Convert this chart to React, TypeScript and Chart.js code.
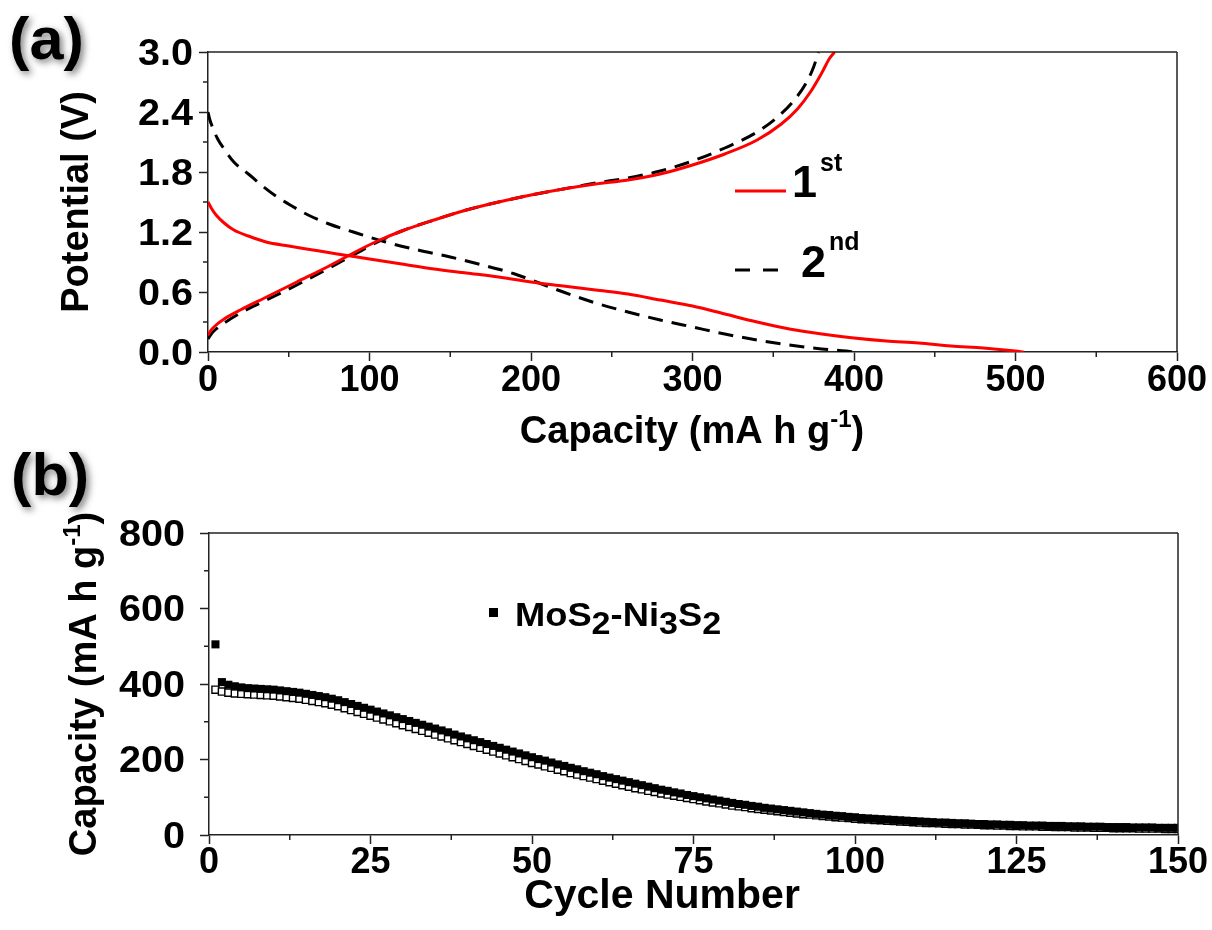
import React, { useEffect, useRef } from 'react';
import { Chart, registerables } from 'chart.js';
Chart.register(...registerables);

const FONT = '"Liberation Sans", Arial, Helvetica, sans-serif';
const AXIS = '#222';

// ---------- Panel (a): potential profiles ----------
const capTicks = [0, 100, 200, 300, 400, 500, 600];
const capTickLabels = ['0', '100', '200', '300', '400', '500', '600'];
const capMinor = [50, 150, 250, 350, 450, 550];
const potTicks = [0, 0.6, 1.2, 1.8, 2.4, 3.0];
const potTickLabels = ['0.0', '0.6', '1.2', '1.8', '2.4', '3.0'];
const potMinor = [0.3, 0.9, 1.5, 2.1, 2.7];

const discharge1Cap = [0, 2, 5, 10, 16, 25, 36, 50, 65, 80, 100, 120, 140, 160, 180, 200, 220, 240, 260, 280, 300, 320, 340, 360, 380, 400, 420, 440, 460, 480, 500, 505];
const discharge1V = [1.5, 1.44, 1.37, 1.29, 1.22, 1.16, 1.1, 1.06, 1.02, 0.98, 0.93, 0.88, 0.83, 0.79, 0.75, 0.7, 0.66, 0.62, 0.58, 0.52, 0.46, 0.38, 0.3, 0.23, 0.18, 0.14, 0.11, 0.09, 0.06, 0.04, 0.01, 0];
const charge1Cap = [0, 2, 5, 10, 20, 35, 55, 75, 90, 105, 120, 140, 160, 180, 200, 220, 240, 260, 280, 300, 320, 340, 355, 365, 373, 380, 385, 388];
const charge1V = [0.17, 0.22, 0.27, 0.33, 0.42, 0.54, 0.7, 0.86, 0.99, 1.11, 1.21, 1.32, 1.42, 1.5, 1.57, 1.63, 1.68, 1.72, 1.78, 1.87, 1.98, 2.12, 2.28, 2.43, 2.6, 2.79, 2.94, 3.0];
const discharge2Cap = [0, 1, 3, 6, 10, 16, 25, 33, 42, 52, 62, 75, 90, 110, 130, 150, 170, 190, 205, 220, 240, 260, 280, 300, 320, 340, 360, 380, 395, 400];
const discharge2V = [2.4, 2.33, 2.24, 2.13, 2.03, 1.9, 1.78, 1.67, 1.56, 1.46, 1.37, 1.28, 1.2, 1.1, 1.02, 0.95, 0.87, 0.78, 0.69, 0.6, 0.49, 0.4, 0.32, 0.25, 0.18, 0.12, 0.07, 0.03, 0.01, 0];
const charge2Cap = [0, 2, 5, 10, 20, 35, 55, 75, 90, 105, 120, 140, 160, 180, 200, 220, 240, 260, 280, 300, 320, 340, 352, 362, 370, 375, 378];
const charge2V = [0.13, 0.18, 0.23, 0.29, 0.39, 0.51, 0.67, 0.84, 0.97, 1.1, 1.21, 1.32, 1.42, 1.5, 1.57, 1.63, 1.69, 1.74, 1.81, 1.91, 2.04, 2.2, 2.34, 2.5, 2.68, 2.85, 3.0];

// ---------- Panel (b): cycling ----------
const cycTicks = [0, 25, 50, 75, 100, 125, 150];
const cycTickLabels = ['0', '25', '50', '75', '100', '125', '150'];
const cycMinor = [12.5, 37.5, 62.5, 87.5, 112.5, 137.5];
const capBTicks = [0, 200, 400, 600, 800];
const capBTickLabels = ['0', '200', '400', '600', '800'];
const capBMinor = [100, 300, 500, 700];

const dischargeCapacity = [
  505, 405, 398, 394, 391, 389, 388, 387, 386, 385,
  383, 381, 379, 377, 374, 371, 368, 365, 361, 357,
  352, 347, 342, 337, 332, 327, 322, 317, 312, 307,
  302, 297, 292, 287, 282, 277, 272, 266, 261, 256,
  251, 246, 241, 236, 231, 226, 221, 216, 211, 206,
  201, 197, 192, 187, 183, 178, 174, 169, 165, 161,
  156, 152, 148, 144, 140, 136, 132, 128, 124, 120,
  117, 113, 110, 106, 103, 100, 97, 94, 91, 88,
  85, 82, 80, 77, 75, 72, 70, 68, 66, 64,
  62, 60, 58, 56, 54, 53, 51, 50, 48, 47,
  45, 44, 43, 42, 41, 40, 39, 38, 37, 36,
  35, 34, 33, 33, 32, 31, 31, 30, 29, 29,
  28, 28, 27, 27, 26, 26, 25, 25, 25, 24,
  24, 24, 23, 23, 23, 22, 22, 22, 21, 21,
  21, 21, 20, 20, 20, 20, 19, 19, 19, 19,
];
const chargeCapacity = [
  385, 380, 377, 375, 374, 373, 372, 371, 370, 369,
  367, 365, 363, 361, 358, 355, 352, 349, 345, 341,
  336, 331, 326, 321, 316, 311, 306, 301, 296, 291,
  286, 281, 276, 271, 266, 261, 256, 251, 246, 241,
  236, 231, 226, 221, 216, 211, 206, 201, 196, 191,
  187, 182, 178, 173, 169, 164, 160, 156, 152, 148,
  144, 140, 136, 132, 128, 124, 121, 117, 114, 110,
  107, 104, 101, 98, 95, 92, 89, 86, 84, 81,
  78, 76, 74, 71, 69, 67, 65, 63, 61, 59,
  57, 55, 54, 52, 50, 49, 47, 46, 45, 43,
  42, 41, 40, 39, 38, 37, 36, 35, 34, 33,
  32, 32, 31, 30, 29, 29, 28, 28, 27, 26,
  26, 25, 25, 24, 24, 23, 23, 23, 22, 22,
  21, 21, 21, 20, 20, 20, 19, 19, 19, 18,
  18, 18, 18, 17, 17, 17, 17, 16, 16, 16,
];

type Seg = { t: string; size: number; dy?: number; gap?: number };

function setFont(ctx: CanvasRenderingContext2D, size: number) {
  ctx.font = `bold ${size}px ${FONT}`;
}

function drawRich(
  ctx: CanvasRenderingContext2D,
  segs: Seg[],
  x: number,
  y: number,
  align: 'left' | 'center' | 'right',
  rotate = false,
  sx = 1,
  shadow = false
) {
  ctx.save();
  let total = 0;
  const widths = segs.map((s) => {
    setFont(ctx, s.size);
    const w = ctx.measureText(s.t).width + (s.gap || 0);
    total += w;
    return w;
  });
  ctx.translate(x, y);
  ctx.scale(sx, 1);
  if (rotate) ctx.rotate(-Math.PI / 2);
  let cx = align === 'center' ? -total / 2 : align === 'right' ? -total : 0;
  ctx.textBaseline = 'alphabetic';
  ctx.textAlign = 'left';
  ctx.fillStyle = '#000';
  if (shadow) {
    ctx.shadowColor = 'rgba(0,0,0,0.5)';
    ctx.shadowBlur = 7;
    ctx.shadowOffsetX = 3;
    ctx.shadowOffsetY = 3;
  }
  segs.forEach((s, i) => {
    setFont(ctx, s.size);
    ctx.fillText(s.t, cx, s.dy || 0);
    cx += widths[i];
  });
  ctx.restore();
}

function line(ctx: CanvasRenderingContext2D, x1: number, y1: number, x2: number, y2: number) {
  ctx.beginPath();
  ctx.moveTo(x1, y1);
  ctx.lineTo(x2, y2);
  ctx.stroke();
}

function pts(xs: number[], ys: number[]) {
  return xs.map((x, i) => ({ x, y: ys[i] }));
}

type Decor = {
  xMinor: number[];
  yMinor: number[];
  xTicks: number[];
  xLabels: string[];
  yTicks: number[];
  yLabels: string[];
  yLabelRight: number;
  xLabelBaseline: number;
  tickSize: number;
  extra: (ctx: CanvasRenderingContext2D, chart: any) => void;
};

function makeDecor(d: Decor) {
  return {
    id: 'decor',
    afterDraw(chart: any) {
      const ctx: CanvasRenderingContext2D = chart.ctx;
      const area = chart.chartArea;
      const xs = chart.scales.x;
      const ys = chart.scales.y;
      ctx.save();
      ctx.strokeStyle = AXIS;
      ctx.lineWidth = 1.5;
      line(ctx, area.left, area.top, area.right, area.top);
      line(ctx, area.right, area.top, area.right, area.bottom);
      d.xMinor.forEach((v) => {
        const px = xs.getPixelForValue(v);
        line(ctx, px, area.bottom, px, area.bottom + 5);
      });
      d.yMinor.forEach((v) => {
        const py = ys.getPixelForValue(v);
        line(ctx, area.left - 5, py, area.left, py);
      });
      ctx.restore();
      d.xTicks.forEach((v, i) => {
        const px = xs.getPixelForValue(v);
        drawRich(ctx, [{ t: d.xLabels[i], size: d.tickSize }], px, d.xLabelBaseline, 'center');
      });
      d.yTicks.forEach((v, i) => {
        const py = ys.getPixelForValue(v);
        drawRich(ctx, [{ t: d.yLabels[i], size: d.tickSize }], d.yLabelRight, py + d.tickSize * 0.358, 'right', false, 1.1);
      });
      d.extra(ctx, chart);
    },
  };
}

function axisOpts(min: number, max: number, ticks: number[], fit: (s: any) => void) {
  return {
    type: 'linear' as const,
    min,
    max,
    afterBuildTicks: (s: any) => {
      s.ticks = ticks.map((v) => ({ value: v }));
    },
    afterFit: fit,
    ticks: { display: false },
    grid: {
      display: true,
      drawOnChartArea: false,
      drawTicks: true,
      tickLength: 9,
      tickWidth: 1.5,
      tickColor: AXIS,
    },
    border: { display: true, color: AXIS, width: 1.5 },
  };
}

const TOP_B = 440;

export default function App() {
  const refA = useRef<HTMLCanvasElement>(null);
  const refB = useRef<HTMLCanvasElement>(null);

  useEffect(() => {
    const decorA = makeDecor({
      xMinor: capMinor,
      yMinor: potMinor,
      xTicks: capTicks,
      xLabels: capTickLabels,
      yTicks: potTicks,
      yLabels: potTickLabels,
      yLabelRight: 193,
      xLabelBaseline: 391,
      tickSize: 36,
      extra: (ctx) => {
        drawRich(ctx, [{ t: '(a)', size: 60 }], 9, 59, 'left', false, 1.02, true);
        drawRich(ctx, [{ t: 'Potential (V)', size: 38 }], 88, 202, 'center', true);
        drawRich(
          ctx,
          [
            { t: 'Capacity (mA h g', size: 38 },
            { t: '-1', size: 24, dy: -16 },
            { t: ')', size: 38 },
          ],
          692,
          443,
          'center'
        );
        ctx.save();
        ctx.lineWidth = 3;
        ctx.strokeStyle = '#ff0000';
        line(ctx, 735, 191, 786, 191);
        ctx.strokeStyle = '#000';
        line(ctx, 735, 270, 750, 270);
        line(ctx, 763, 270, 778, 270);
        ctx.restore();
        drawRich(ctx, [{ t: '1', size: 45, gap: 3 }, { t: 'st', size: 25, dy: -26 }], 792, 197, 'left');
        drawRich(ctx, [{ t: '2', size: 45, gap: 3 }, { t: 'nd', size: 25, dy: -27 }], 801, 277, 'left');
      },
    });

    const lineDs = (label: string, data: any[], color: string, dash: number[]) => ({
      label,
      data,
      showLine: true,
      borderColor: color,
      backgroundColor: color,
      borderWidth: 3,
      borderDash: dash,
      pointRadius: 0,
      cubicInterpolationMode: 'monotone' as const,
      fill: false,
    });

    const chartA = new Chart(refA.current!, {
      type: 'scatter',
      data: {
        datasets: [
          lineDs('1st discharge', pts(discharge1Cap, discharge1V), '#ff0000', []),
          lineDs('1st charge', pts(charge1Cap, charge1V), '#ff0000', []),
          lineDs('2nd discharge', pts(discharge2Cap, discharge2V), '#000000', [15, 9]),
          lineDs('2nd charge', pts(charge2Cap, charge2V), '#000000', [15, 9]),
        ],
      },
      options: {
        responsive: false,
        animation: false,
        events: [],
        layout: { padding: { top: 52, right: 35, left: 0, bottom: 0 } },
        plugins: { legend: { display: false }, tooltip: { enabled: false } },
        scales: {
          x: axisOpts(0, 600, capTicks, (s: any) => {
            s.height = 113;
          }),
          y: axisOpts(0, 3, potTicks, (s: any) => {
            s.width = 208;
          }),
        },
      },
      plugins: [decorA],
    } as any);

    const decorB = makeDecor({
      xMinor: cycMinor,
      yMinor: capBMinor,
      xTicks: cycTicks,
      xLabels: cycTickLabels,
      yTicks: capBTicks,
      yLabels: capBTickLabels,
      yLabelRight: 185,
      xLabelBaseline: 873 - TOP_B,
      tickSize: 36,
      extra: (ctx) => {
        drawRich(ctx, [{ t: '(b)', size: 60 }], 11, 495 - TOP_B, 'left', false, 1.02, true);
        drawRich(ctx, [{ t: 'Cycle Number', size: 41 }], 662, 908 - TOP_B, 'center');
        drawRich(
          ctx,
          [
            { t: 'Capacity (mA h g', size: 38 },
            { t: '-1', size: 24, dy: -16 },
            { t: ')', size: 38 },
          ],
          96,
          684 - TOP_B,
          'center',
          true
        );
        ctx.save();
        ctx.fillStyle = '#000';
        ctx.fillRect(489, 608 - TOP_B, 9, 9);
        ctx.restore();
        drawRich(
          ctx,
          [
            { t: 'MoS', size: 33 },
            { t: '2', size: 31, dy: 8 },
            { t: '-Ni', size: 33 },
            { t: '3', size: 31, dy: 8 },
            { t: 'S', size: 33 },
            { t: '2', size: 31, dy: 8 },
          ],
          515,
          626 - TOP_B,
          'left',
          false,
          1.1
        );
      },
    });

    const cycles = dischargeCapacity.map((_, i) => i + 1);

    const chartB = new Chart(refB.current!, {
      type: 'scatter',
      data: {
        datasets: [
          {
            label: 'Discharge',
            data: pts(cycles, dischargeCapacity),
            pointStyle: 'rect',
            pointRadius: 5.7,
            pointBackgroundColor: '#000',
            pointBorderColor: '#000',
            pointBorderWidth: 0,
            clip: 0,
          },
          {
            label: 'Charge',
            data: pts(cycles, chargeCapacity),
            pointStyle: 'rect',
            pointRadius: 5,
            pointBackgroundColor: '#fff',
            pointBorderColor: '#000',
            pointBorderWidth: 1.4,
            clip: 0,
          },
        ],
      },
      options: {
        responsive: false,
        animation: false,
        events: [],
        layout: { padding: { top: 533 - TOP_B, right: 34, left: 0, bottom: 0 } },
        plugins: { legend: { display: false }, tooltip: { enabled: false } },
        scales: {
          x: axisOpts(0, 150, cycTicks, (s: any) => {
            s.height = 930 - 835;
          }),
          y: axisOpts(0, 800, capBTicks, (s: any) => {
            s.width = 209;
          }),
        },
      },
      plugins: [decorB],
    } as any);

    return () => {
      chartA.destroy();
      chartB.destroy();
    };
  }, []);

  return (
    <div style={{ position: 'fixed', left: 0, top: 0, width: 1212, height: 930, background: '#fff' }}>
      <canvas ref={refA} width={1212} height={465} style={{ position: 'absolute', left: 0, top: 0 }} />
      <canvas ref={refB} width={1212} height={930 - TOP_B} style={{ position: 'absolute', left: 0, top: TOP_B }} />
    </div>
  );
}
